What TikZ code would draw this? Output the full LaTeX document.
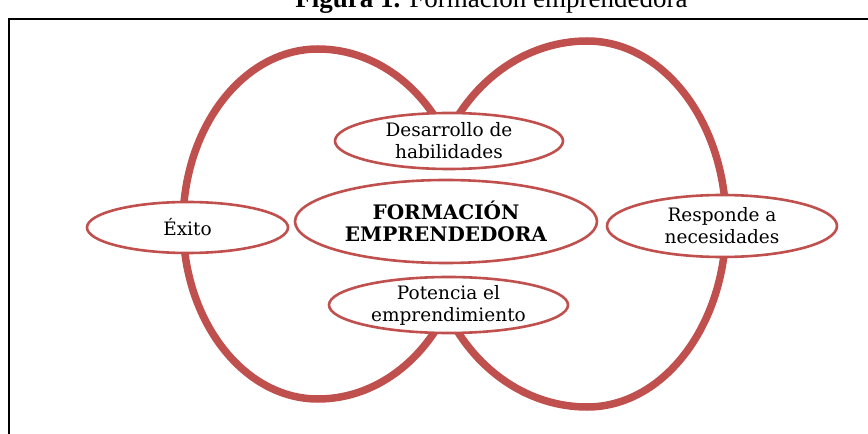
\documentclass[tikz,border=0pt]{standalone}
\usepackage{fontspec}
\setmainfont{DejaVu Serif}
\newfontfamily\titlefont{Liberation Serif}
\usetikzlibrary{shapes.geometric}
\definecolor{accred}{HTML}{C0504D}
\begin{document}
\begin{tikzpicture}[x=1pt,y=1pt,
  bubble/.style={ellipse, draw=accred, line width=2.6pt, fill=white,
    inner sep=0pt, inner ysep=-4pt, align=center,
    font=\fontsize{18.5}{22}\selectfont},
  ring/.style={draw=accred, line width=7.5pt},
  frameline/.style={draw=black, line width=1.5pt}]
\useasboundingbox (0,0) rectangle (868,434);
% frame
\draw[frameline] (9,-2) -- (9,415) -- (870,415);
% title
\node[anchor=base, inner sep=0pt, font=\titlefont\fontsize{27}{30}\selectfont] (title) at (491.5,426) {\textbf{Figura 1.} Formación emprendedora};
% rings
\draw[ring] (446.17,297.5)
  arc[start angle=30,end angle=90,x radius=148,y radius=175]
  arc[start angle=90,end angle=270,x radius=135,y radius=175]
  arc[start angle=270,end angle=330,x radius=148,y radius=175];
\draw[ring] (448.44,118.5)
  arc[start angle=210,end angle=270,x radius=160,y radius=183]
  arc[start angle=270,end angle=450,x radius=139,y radius=183]
  arc[start angle=90,end angle=150,x radius=160,y radius=183];
% nodes
\node[bubble, minimum width=201pt, minimum height=51pt] (exito) at (187.5,206.5) {Éxito};
\node[bubble, minimum width=228pt, minimum height=56pt] (desarrollo) at (449,293) {Desarrollo de\\habilidades};
\node[bubble, minimum width=230pt, minimum height=62pt] (responde) at (722,208) {Responde a\\necesidades};
\node[bubble, minimum width=239pt, minimum height=56pt] (potencia) at (448.5,129) {Potencia el\\emprendimiento};
\node[bubble, minimum width=302pt, minimum height=83pt, font=\bfseries\fontsize{20}{22}\selectfont] (centro) at (446,212.5) {FORMACIÓN\\EMPRENDEDORA};
\end{tikzpicture}
\end{document}
